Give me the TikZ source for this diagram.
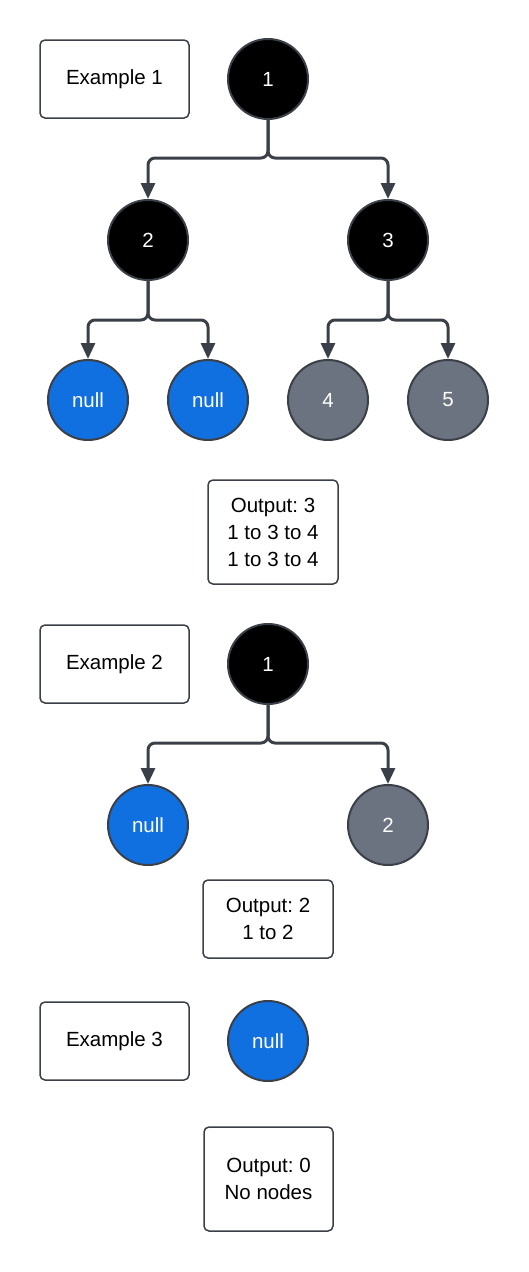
\documentclass[tikz,border=0pt]{standalone}
\usepackage{fontspec}
\setmainfont{Liberation Sans}
\usetikzlibrary{arrows.meta}
\definecolor{edgec}{HTML}{3B4048}
\definecolor{blk}{HTML}{000000}
\definecolor{blu}{HTML}{1170E0}
\definecolor{gry}{HTML}{6B7280}
\tikzset{
  every node/.style={font=\fontsize{20.5}{27}\selectfont\frenchspacing},
  tnode/.style={circle, minimum size=80pt, inner sep=0pt, draw=edgec, line width=2pt, text=white},
  blacknode/.style={tnode, fill=blk},
  nullnode/.style={tnode, fill=blu},
  graynode/.style={tnode, fill=gry},
  labelbox/.style={draw=edgec, line width=1.5pt, rounded corners=5pt, fill=white, text=black, align=center, inner sep=0pt},
  conn/.style={draw=edgec, line width=3pt, rounded corners=7pt, -{Triangle[width=14pt,length=16pt]}},
}
\begin{document}
\begin{tikzpicture}[x=1pt, y=-1pt]
\useasboundingbox (0,0) rectangle (529,1272);
% Example 1
\node[labelbox, minimum width=149pt, minimum height=78pt] (ex1) at (114.5,79) {Example 1};
\node[blacknode] (a1) at (268,79) {1};
\node[blacknode] (a2) at (148,240) {2};
\node[blacknode] (a3) at (388,240) {3};
\node[nullnode] (a4) at (88,400) {null};
\node[nullnode] (a5) at (208,400) {null};
\node[graynode] (a6) at (328,400) {4};
\node[graynode] (a7) at (448,400) {5};
\draw[conn] (a1.south) |- (210,158) -| (a2.north);
\draw[conn] (a1.south) |- (326,158) -| (a3.north);
\draw[conn] (a2.south) |- (120,320) -| (a4.north);
\draw[conn] (a2.south) |- (176,320) -| (a5.north);
\draw[conn] (a3.south) |- (360,320) -| (a6.north);
\draw[conn] (a3.south) |- (416,320) -| (a7.north);
\node[labelbox, minimum width=130pt, minimum height=104pt] (out1) at (273,532) {Output: 3\\1 to 3 to 4\\1 to 3 to 4};
% Example 2
\node[labelbox, minimum width=149pt, minimum height=78pt] (ex2) at (114.5,664) {Example 2};
\node[blacknode] (b1) at (268,664) {1};
\node[nullnode] (b2) at (148,825) {null};
\node[graynode] (b3) at (388,825) {2};
\draw[conn] (b1.south) |- (210,743) -| (b2.north);
\draw[conn] (b1.south) |- (326,743) -| (b3.north);
\node[labelbox, minimum width=130pt, minimum height=78pt] (out2) at (268,919) {Output: 2\\1 to 2};
% Example 3
\node[labelbox, minimum width=149pt, minimum height=78pt] (ex3) at (114.5,1041) {Example 3};
\node[nullnode] (c1) at (268,1041) {null};
\node[labelbox, minimum width=129pt, minimum height=104pt] (out3) at (268.5,1179) {Output: 0\\No nodes};
\end{tikzpicture}
\end{document}
